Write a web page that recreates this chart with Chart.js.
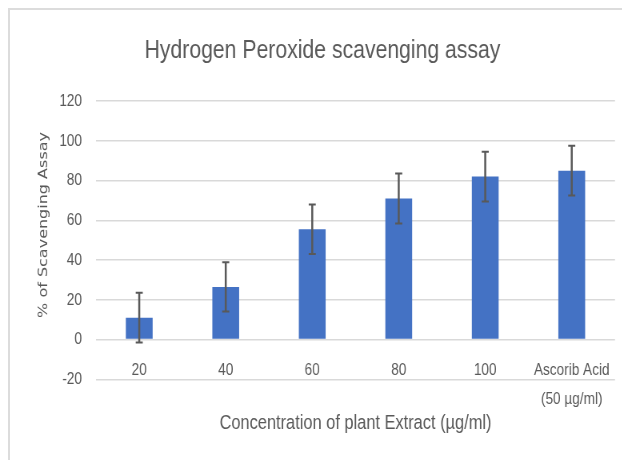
<!DOCTYPE html>
<html>
<head>
<meta charset="utf-8">
<script src="https://cdn.jsdelivr.net/npm/chart.js@4/dist/chart.umd.min.js"></script>
<style>
  html, body { margin: 0; padding: 0; background: #fff; }
  #wrap { position: relative; width: 622px; height: 460px; overflow: hidden; }
  #frame { position: absolute; left: 8px; top: 8px; right: 0; bottom: 0;
           border-left: 2px solid #dcdcdc; border-top: 2px solid #dcdcdc; }
  /* the reference is squeezed sideways, so draw wider and squeeze the same way */
  #chart { position: absolute; left: 0; top: 0; transform: scaleX(0.8); transform-origin: 0 0; }
</style>
</head>
<body>
<div id="wrap">
  <div id="frame"></div>
  <canvas id="chart" width="778" height="460"></canvas>
</div>
<script>
var categories = ["20", "40", "60", "80", "100", ["Ascorib Acid", "(50 \u00b5g/ml)"]];
var scavenging = [11, 26.5, 55.5, 71, 82, 85];
var errors = [12.5, 12.4, 12.5, 12.6, 12.5, 12.5];
var yTicks = { min: -20, max: 120, step: 20 };

var sans = "'Liberation Sans', Arial, sans-serif";
var grey = "#595959";

// error bars drawn from the y scale, on top of each bar
var errorBars = {
    id: "errorBars",
    afterDatasetsDraw: function(chart) {
        var ctx = chart.ctx;
        var y = chart.scales.y;
        var meta = chart.getDatasetMeta(0);
        ctx.save();
        ctx.strokeStyle = grey;
        meta.data.forEach(function(bar, i) {
            var top = y.getPixelForValue(scavenging[i] + errors[i]);
            var bottom = y.getPixelForValue(scavenging[i] - errors[i]);
            ctx.lineWidth = 2.5;
            ctx.beginPath();
            ctx.moveTo(bar.x, top);
            ctx.lineTo(bar.x, bottom);
            ctx.stroke();
            ctx.lineWidth = 2;
            ctx.beginPath();
            ctx.moveTo(bar.x - 4.4, top);
            ctx.lineTo(bar.x + 4.4, top);
            ctx.moveTo(bar.x - 4.4, bottom);
            ctx.lineTo(bar.x + 4.4, bottom);
            ctx.stroke();
        });
        ctx.restore();
    }
};

new Chart(document.getElementById("chart"), {
    type: "bar",
    data: {
        labels: categories,
        datasets: [{
            label: "% of Scavenging Assay",
            data: scavenging,
            backgroundColor: "#4472c4",
            borderWidth: 0,
            barPercentage: 0.31,
            categoryPercentage: 1.0
        }]
    },
    options: {
        responsive: false,
        animation: false,
        layout: { padding: { left: 37.5, right: 9.25, top: 0, bottom: 0 } },
        plugins: {
            legend: { display: false },
            tooltip: { enabled: false },
            title: {
                display: true,
                text: "Hydrogen Peroxide scavenging assay",
                color: grey,
                font: { family: sans, size: 26.5, weight: "normal" },
                padding: { top: 35, bottom: 34.3 }
            }
        },
        scales: {
            x: {
                grid: { display: false, drawTicks: false },
                border: { display: false },
                ticks: {
                    // mirror keeps the labels unclipped, so they can sit above the -20 line
                    mirror: true,
                    color: grey,
                    font: { family: sans, size: 17, lineHeight: 1.735 },
                    padding: -5.5,
                    maxRotation: 0,
                    autoSkip: false
                },
                title: {
                    display: true,
                    text: "Concentration of plant Extract (\u00b5g/ml)",
                    color: grey,
                    font: { family: sans, size: 20.5 },
                    padding: { top: 0, bottom: 24 }
                },
                afterFit: function(scale) { scale.height = 80.7; }
            },
            y: {
                min: yTicks.min,
                max: yTicks.max,
                grid: { color: "#d9d9d9", lineWidth: 1.5, drawTicks: false },
                border: { display: false },
                ticks: {
                    stepSize: yTicks.step,
                    color: grey,
                    font: { family: sans, size: 17 },
                    padding: 17.5
                },
                title: {
                    display: true,
                    text: "      % of Scavenging Assay",
                    color: grey,
                    font: { family: "'DejaVu Sans', sans-serif", size: 16 },
                    padding: { top: 7.9, bottom: 0 }
                },
                afterFit: function(scale) { scale.width = 82.5; }
            }
        }
    },
    plugins: [errorBars]
});
</script>
</body>
</html>
